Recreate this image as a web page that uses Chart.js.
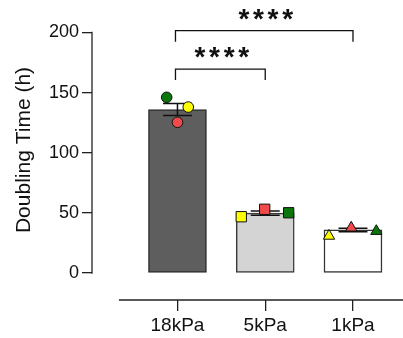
<!DOCTYPE html>
<html><head><meta charset="utf-8">
<script src="https://cdn.jsdelivr.net/npm/chart.js@4.4.1/dist/chart.umd.min.js"></script>
<style>html,body{margin:0;padding:0;background:#fff}#wrap{width:403px;height:338px;position:relative}</style>
</head><body><div id="wrap"><canvas id="c"></canvas></div>
<script>
// ---- data ----
const categories = ['18kPa', '5kPa', '1kPa'];
const means = [136, 49.8, 35.8];
const sems = [5, 1.7, 1.5];
const replicateGreen = [146.1, 50.1, 34.8];
const replicateYellow = [138.0, 46.8, 30.8];
const replicateRed = [125.3, 53.0, 37.6];
const yTicks = [0, 50, 100, 150, 200];
const yTitle = 'Doubling Time (h)';
const comparisonFrom = [0, 0];
const comparisonTo = [1, 2];
const comparisonLevel = [169.6, 201.5];
const comparisonLabel = ['****', '****'];

// ---- layout / style (not data) ----
const jitterGreen = [-0.123, 0.267, 0.266];
const jitterYellow = [0.123, -0.273, -0.273];
const jitterRed = [0, -0.006, -0.02];
const capHalf = 0.165;
const xLineStart = -0.667;
const bracketDrop = 11;
const starPitch = 14.6;
const starRise = 16.5;

const FONT = '"Liberation Sans", Arial, sans-serif';
Chart.defaults.font.family = FONT;
Chart.defaults.color = '#111';

const annot = {
  id: 'annot',
  afterDatasetDraw(chart, args) {
    if (args.index !== 0) return;
    const x = chart.scales.x, y = chart.scales.y, ctx = chart.ctx;
    ctx.save();
    ctx.strokeStyle = '#111'; ctx.lineWidth = 1.5;
    means.forEach((m, i) => {
      const cx = x.getPixelForValue(i);
      const hw = x.getPixelForValue(i + capHalf) - cx;
      const yt = y.getPixelForValue(m + sems[i]);
      const yb = y.getPixelForValue(m - sems[i]);
      ctx.beginPath();
      ctx.moveTo(cx, yt); ctx.lineTo(cx, yb);
      ctx.moveTo(cx - hw, yt); ctx.lineTo(cx + hw, yt);
      ctx.moveTo(cx - hw, yb); ctx.lineTo(cx + hw, yb);
      ctx.stroke();
    });
    ctx.restore();
  },
  afterDraw(chart) {
    const x = chart.scales.x, y = chart.scales.y, ctx = chart.ctx, ca = chart.chartArea;
    ctx.save();
    ctx.strokeStyle = '#222'; ctx.lineWidth = 1.3;
    ctx.beginPath();
    ctx.moveTo(ca.left, y.getPixelForValue(yTicks[0]) + 0.65);
    ctx.lineTo(ca.left, y.getPixelForValue(yTicks[yTicks.length - 1]) - 0.65);
    ctx.stroke();
    ctx.beginPath();
    ctx.moveTo(x.getPixelForValue(xLineStart), ca.bottom);
    ctx.lineTo(ca.right, ca.bottom);
    ctx.stroke();
    ctx.strokeStyle = '#111';
    ctx.font = 'bold 28px ' + FONT;
    ctx.fillStyle = '#111';
    ctx.textAlign = 'center';
    ctx.textBaseline = 'alphabetic';
    comparisonFrom.forEach((f, k) => {
      const x1 = x.getPixelForValue(f) - 2, x2 = x.getPixelForValue(comparisonTo[k]);
      const yl = y.getPixelForValue(comparisonLevel[k]);
      ctx.beginPath();
      ctx.moveTo(x1, yl + bracketDrop); ctx.lineTo(x1, yl); ctx.lineTo(x2, yl); ctx.lineTo(x2, yl + bracketDrop);
      ctx.stroke();
      const label = comparisonLabel[k].split('');
      const cx = (x1 + x2) / 2 + 1.5;
      const cy = yl - starRise;
      label.forEach((ch, j) => {
        const mt = ctx.measureText(ch);
        const base = cy + (mt.actualBoundingBoxAscent - mt.actualBoundingBoxDescent) / 2;
        ctx.fillText(ch, cx + (j - (label.length - 1) / 2) * starPitch, base);
      });
    });
    ctx.restore();
  }
};

const pointStyles = ['circle', 'rect', 'triangle'];
const pointSizes = [5.3, 7.3, 6.5];
function reps(vals, jit, color) {
  return {
    type: 'scatter', order: 1,
    data: vals.map((v, i) => ({ x: i + jit[i], y: v })),
    backgroundColor: color, borderColor: '#111',
    pointStyle: pointStyles, pointRadius: pointSizes, pointHoverRadius: pointSizes,
    pointBorderWidth: 1, borderWidth: 1
  };
}

function noPad(s) { s.paddingTop = 0; s.paddingBottom = 0; s.paddingLeft = 0; s.paddingRight = 0; }

new Chart(document.getElementById('c'), {
  type: 'bar',
  data: {
    datasets: [
      {
        type: 'bar', order: 3,
        data: means.map((m, i) => ({ x: i, y: m })),
        backgroundColor: ['#5e5e5e', '#d4d4d4', '#ffffff'],
        borderColor: ['#2e2e2e', '#3a3a3a', '#333333'],
        borderWidth: 1.5, barThickness: 58, borderSkipped: false
      },
      reps(replicateRed, jitterRed, '#f24a4a'),
      reps(replicateYellow, jitterYellow, '#ffff00'),
      reps(replicateGreen, jitterGreen, '#0b760b')
    ]
  },
  options: {
    responsive: true, maintainAspectRatio: false, animation: false, devicePixelRatio: 1,
    layout: { padding: 0, autoPadding: false },
    plugins: { legend: { display: false }, tooltip: { enabled: false } },
    events: [],
    scales: {
      x: {
        type: 'linear', min: -0.974, max: 2.57, offset: false,
        afterBuildTicks: s => { s.ticks = categories.map((c, i) => ({ value: i })); },
        afterFit: s => { s.height = 38; noPad(s); },
        ticks: { callback: v => categories[v], font: { size: 19 }, padding: 3, color: '#111', maxRotation: 0 },
        grid: { offset: false, drawOnChartArea: false, drawTicks: true, tickLength: 11, color: '#222', lineWidth: 1.3 },
        border: { display: false }
      },
      y: {
        type: 'linear', min: -22.45, max: 227.03,
        afterBuildTicks: s => { s.ticks = yTicks.map(v => ({ value: v })); },
        afterFit: s => { s.width = 92; noPad(s); },
        ticks: { callback: v => String(v), font: { size: 18 }, padding: 3, color: '#111' },
        grid: { drawOnChartArea: false, drawTicks: true, tickLength: 10, color: '#222', lineWidth: 1.3 },
        border: { display: false },
        title: { display: true, text: yTitle, font: { size: 21 }, padding: { top: 12, bottom: 0 }, color: '#111' }
      }
    }
  },
  plugins: [annot]
});
</script>
</body></html>
